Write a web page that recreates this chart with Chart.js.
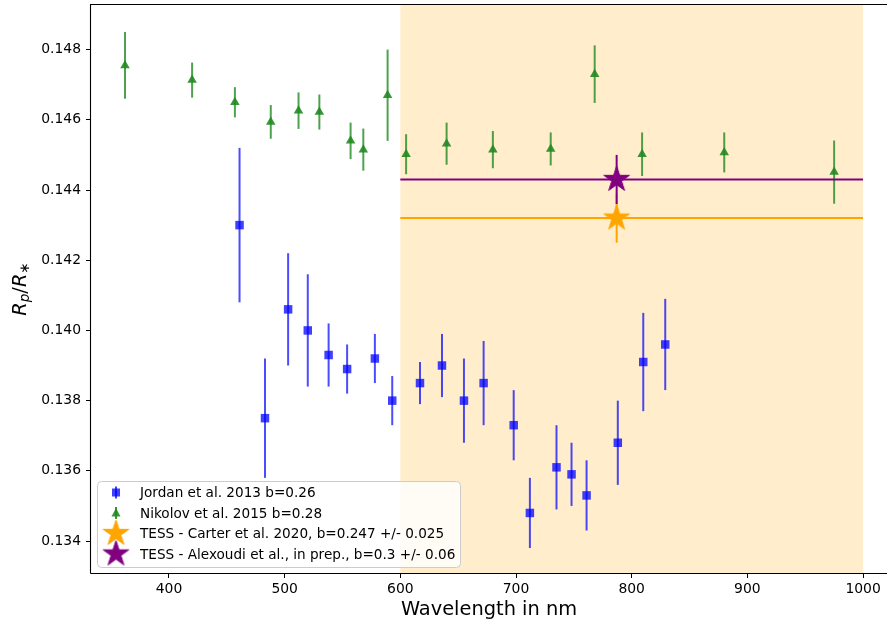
<!DOCTYPE html>
<html>
<head>
<meta charset="utf-8">
<script src="https://cdn.jsdelivr.net/npm/chart.js@4.4.1/dist/chart.umd.min.js"></script>
<style>
    html, body { margin: 0; padding: 0; background: #fff; }
    #chart { display: block; }
</style>
</head>
<body>
<canvas id="chart" width="887" height="621"></canvas>
<script>
// Jordan et al. 2013 (blue squares)
var jordanWavelength = [461, 483, 503, 520, 538, 554, 578, 593, 617, 636, 655, 672, 698, 712, 735, 748, 761, 788, 810, 829];
var jordanRadius = [0.1430, 0.1375, 0.1406, 0.1400, 0.1393, 0.1389, 0.1392, 0.1380, 0.1385, 0.1390,
                    0.1380, 0.1385, 0.1373, 0.1348, 0.1361, 0.1359, 0.1353, 0.1368, 0.1391, 0.1396];
var jordanError = [0.0022, 0.0017, 0.0016, 0.0016, 0.0009, 0.0007, 0.0007, 0.0007, 0.0006, 0.0009,
                   0.0012, 0.0012, 0.0010, 0.0010, 0.0012, 0.0009, 0.0010, 0.0012, 0.0014, 0.0013];

// Nikolov et al. 2015 (green triangles)
var nikolovWavelength = [362, 420, 457, 488, 512, 530, 557, 568, 589, 605, 640, 680, 730, 768, 809, 880, 975];
var nikolovRadius = [0.14755, 0.14713, 0.1465, 0.14594, 0.14626, 0.14622, 0.1454, 0.14515, 0.1467,
                     0.14502, 0.14532, 0.14515, 0.14517, 0.1473, 0.14502, 0.14507, 0.14451];
var nikolovError = [0.00095, 0.0005, 0.00043, 0.00048, 0.00052, 0.0005, 0.00052, 0.0006, 0.0013,
                    0.00057, 0.0006, 0.00053, 0.00047, 0.00082, 0.00062, 0.00057, 0.0009];

// TESS values, band 600-1000 nm
var tessBand = [600, 1000];
var tessWavelength = 787;
var carterRadius = 0.1432;
var carterError = 0.0007;
var alexoudiRadius = 0.1443;
var alexoudiError = 0.0007;

var xTicks = [400, 500, 600, 700, 800, 900, 1000];
var yTicks = [0.134, 0.136, 0.138, 0.140, 0.142, 0.144, 0.146, 0.148];

var legendLabels = [
    'Jordan et al. 2013 b=0.26',
    'Nikolov et al. 2015 b=0.28',
    'TESS - Carter et al. 2020, b=0.247 +/- 0.025',
    'TESS - Alexoudi et al., in prep., b=0.3 +/- 0.06'
];

var FONT = 'DejaVu Sans';

function toPoints(xs, ys) {
    return xs.map(function (x, i) { return { x: x, y: ys[i] }; });
}

// filled five point star, like the matplotlib '*' marker
function makeStar(color, radius) {
    var size = Math.ceil(radius * 2 + 4);
    var c = document.createElement('canvas');
    c.width = size;
    c.height = size;
    var g = c.getContext('2d');
    var inner = radius * 0.381966;
    g.beginPath();
    for (var i = 0; i < 10; i++) {
        var r = i % 2 === 0 ? radius : inner;
        var a = -Math.PI / 2 + i * Math.PI / 5;
        var px = size / 2 + r * Math.cos(a);
        var py = size / 2 + r * Math.sin(a);
        if (i === 0) g.moveTo(px, py); else g.lineTo(px, py);
    }
    g.closePath();
    g.fillStyle = color;
    g.fill();
    g.lineWidth = 1;
    g.strokeStyle = color;
    g.stroke();
    return c;
}

var orangeStar = makeStar('orange', 13.5);
var purpleStar = makeStar('purple', 13.5);

var blue = 'rgba(0, 0, 255, 0.75)';
var green = 'rgba(34, 139, 34, 0.9)';

// orange band behind the points
var bandPlugin = {
    id: 'band',
    beforeDatasetsDraw: function (chart) {
        var area = chart.chartArea;
        var x = chart.scales.x;
        var x0 = x.getPixelForValue(tessBand[0]);
        var x1 = x.getPixelForValue(tessBand[1]);
        chart.ctx.save();
        chart.ctx.fillStyle = 'rgba(255, 165, 0, 0.2)';
        chart.ctx.fillRect(x0, area.top, x1 - x0, area.bottom - area.top);
        chart.ctx.restore();
    }
};

// vertical error bars, drawn just before each dataset's markers
var errorBarPlugin = {
    id: 'errorBars',
    beforeDatasetDraw: function (chart, args) {
        var dataset = chart.data.datasets[args.index];
        if (!dataset.errors) return;
        var ctx = chart.ctx;
        var xs = chart.scales.x, ys = chart.scales.y;
        ctx.save();
        ctx.strokeStyle = dataset.errorColor;
        ctx.lineWidth = 2;
        dataset.data.forEach(function (p, i) {
            var px = xs.getPixelForValue(p.x);
            ctx.beginPath();
            ctx.moveTo(px, ys.getPixelForValue(p.y - dataset.errors[i]));
            ctx.lineTo(px, ys.getPixelForValue(p.y + dataset.errors[i]));
            ctx.stroke();
        });
        ctx.restore();
    }
};

// spines, legend box and the y label with subscripts
var decorPlugin = {
    id: 'decor',
    afterDraw: function (chart) {
        var ctx = chart.ctx;
        var area = chart.chartArea;
        ctx.save();
        ctx.strokeStyle = '#000';
        ctx.lineWidth = 1.1;
        ctx.beginPath();
        ctx.moveTo(area.left - 0.5, area.bottom + 0.5);
        ctx.lineTo(area.left - 0.5, area.top - 0.5);
        ctx.lineTo(chart.width, area.top - 0.5);
        ctx.moveTo(area.left - 0.5, area.bottom + 0.5);
        ctx.lineTo(chart.width, area.bottom + 0.5);
        ctx.stroke();

        // legend
        var lx = 97, ly = 481, lw = 363, lh = 86;
        ctx.beginPath();
        ctx.roundRect(lx + 0.5, ly + 0.5, lw, lh, 4);
        ctx.fillStyle = 'rgba(255, 255, 255, 0.8)';
        ctx.fill();
        ctx.strokeStyle = '#cccccc';
        ctx.lineWidth = 1;
        ctx.stroke();

        var rows = [492.5, 513, 533.5, 554];
        var mx = 116;
        ctx.font = '13.6px "' + FONT + '"';
        ctx.textBaseline = 'middle';
        ctx.fillStyle = '#000';
        legendLabels.forEach(function (label, i) {
            ctx.fillText(label, 140, rows[i] + 1);
        });

        // blue square with bar
        ctx.strokeStyle = blue;
        ctx.lineWidth = 2;
        ctx.beginPath();
        ctx.moveTo(mx, rows[0] - 6);
        ctx.lineTo(mx, rows[0] + 6);
        ctx.stroke();
        ctx.fillStyle = blue;
        ctx.fillRect(mx - 4, rows[0] - 4, 8, 8);

        // green triangle with bar
        ctx.strokeStyle = green;
        ctx.beginPath();
        ctx.moveTo(mx, rows[1] - 6);
        ctx.lineTo(mx, rows[1] + 6);
        ctx.stroke();
        ctx.fillStyle = green;
        ctx.beginPath();
        ctx.moveTo(mx, rows[1] - 5);
        ctx.lineTo(mx - 4.5, rows[1] + 3.5);
        ctx.lineTo(mx + 4.5, rows[1] + 3.5);
        ctx.closePath();
        ctx.fill();

        ctx.drawImage(orangeStar, mx - orangeStar.width / 2, rows[2] - orangeStar.height / 2);
        ctx.drawImage(purpleStar, mx - purpleStar.width / 2, rows[3] - purpleStar.height / 2);

        // y label R_p / R_*
        ctx.translate(21, 289);
        ctx.rotate(-Math.PI / 2);
        var parts = [
            { t: 'R', f: 'italic 19.4px "' + FONT + '"', dy: 0 },
            { t: 'p', f: 'italic 13.6px "' + FONT + '"', dy: 4 },
            { t: '/', f: '19.4px "' + FONT + '"', dy: 0 },
            { t: 'R', f: 'italic 19.4px "' + FONT + '"', dy: 0 },
            { t: '\u2217', f: '13.6px "' + FONT + '"', dy: 4 }
        ];
        var total = 0;
        parts.forEach(function (p) {
            ctx.font = p.f;
            p.w = ctx.measureText(p.t).width;
            total += p.w;
        });
        var cx = -total / 2;
        ctx.textBaseline = 'middle';
        ctx.textAlign = 'left';
        ctx.fillStyle = '#000';
        parts.forEach(function (p) {
            ctx.font = p.f;
            ctx.fillText(p.t, cx, p.dy);
            cx += p.w;
        });
        ctx.restore();
    }
};

Chart.defaults.font.family = FONT;
Chart.defaults.color = '#000';

var chart = new Chart(document.getElementById('chart'), {
    type: 'scatter',
    data: {
        datasets: [
            {
                label: legendLabels[0],
                data: toPoints(jordanWavelength, jordanRadius),
                errors: jordanError,
                errorColor: 'rgba(0, 0, 255, 0.7)',
                pointStyle: 'rect',
                pointRadius: 6,
                backgroundColor: blue,
                borderColor: blue,
                borderWidth: 0,
                order: 5
            },
            {
                label: legendLabels[1],
                data: toPoints(nikolovWavelength, nikolovRadius),
                errors: nikolovError,
                errorColor: 'rgba(34, 139, 34, 0.8)',
                pointStyle: 'triangle',
                pointRadius: 5.5,
                backgroundColor: green,
                borderColor: green,
                borderWidth: 0,
                order: 4
            },
            {
                label: 'carter band',
                data: [{ x: tessBand[0], y: carterRadius }, { x: tessBand[1], y: carterRadius }],
                showLine: true,
                borderColor: 'orange',
                borderWidth: 2,
                pointRadius: 0,
                order: 3
            },
            {
                label: 'alexoudi band',
                data: [{ x: tessBand[0], y: alexoudiRadius }, { x: tessBand[1], y: alexoudiRadius }],
                showLine: true,
                borderColor: 'purple',
                borderWidth: 2,
                pointRadius: 0,
                order: 2
            },
            {
                label: legendLabels[2],
                data: [{ x: tessWavelength, y: carterRadius }],
                errors: [carterError],
                errorColor: 'orange',
                pointStyle: orangeStar,
                order: 1
            },
            {
                label: legendLabels[3],
                data: [{ x: tessWavelength, y: alexoudiRadius }],
                errors: [alexoudiError],
                errorColor: 'purple',
                pointStyle: purpleStar,
                order: 0
            }
        ]
    },
    options: {
        responsive: false,
        animation: false,
        events: [],
        layout: { autoPadding: false, padding: { left: 0, top: 5, right: 0, bottom: 0 } },
        plugins: {
            legend: { display: false },
            tooltip: { enabled: false }
        },
        scales: {
            x: {
                type: 'linear',
                min: 332.6,
                max: 1020.7,
                afterBuildTicks: function (scale) {
                    scale.ticks = xTicks.map(function (v) { return { value: v }; });
                },
                afterFit: function (scale) {
                    scale.height = 48;
                    scale.paddingLeft = 0;
                    scale.paddingRight = 0;
                },
                ticks: {
                    font: { size: 13.9 },
                    color: '#000',
                    padding: 3,
                    maxRotation: 0,
                    callback: function (v) { return String(v); }
                },
                grid: { drawOnChartArea: false, tickLength: 5, color: '#000', lineWidth: 1 },
                border: { display: false },
                title: {
                    display: true,
                    text: 'Wavelength in nm',
                    font: { size: 19.4 },
                    color: '#000',
                    padding: { top: 0, bottom: -1 }
                }
            },
            y: {
                type: 'linear',
                min: 0.13309,
                max: 0.14927,
                afterBuildTicks: function (scale) {
                    scale.ticks = yTicks.map(function (v) { return { value: v }; });
                },
                afterFit: function (scale) {
                    scale.width = 91;
                    scale.paddingTop = 0;
                    scale.paddingBottom = 0;
                },
                ticks: {
                    font: { size: 13.9 },
                    color: '#000',
                    padding: 5,
                    callback: function (v) { return v.toFixed(3); }
                },
                grid: { drawOnChartArea: false, tickLength: 5, color: '#000', lineWidth: 1 },
                border: { display: false }
            }
        }
    },
    plugins: [bandPlugin, errorBarPlugin, decorPlugin]
});
</script>
</body>
</html>
